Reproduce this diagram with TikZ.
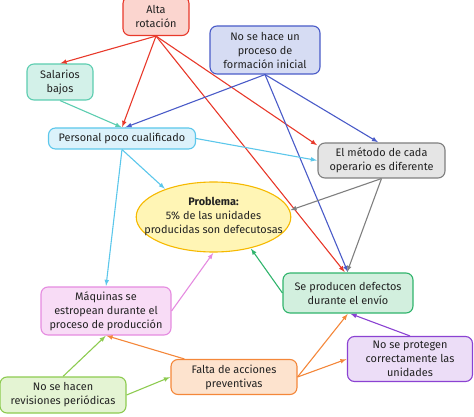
\documentclass[tikz,border=0pt]{standalone}
\usepackage{fontspec}
\setmainfont{Fira Sans}
\usepackage{tikz}
\usetikzlibrary{arrows,shapes,positioning}

\definecolor{rojo}{HTML}{E8392B}
\definecolor{rojoF}{HTML}{FBD5CF}
\definecolor{azul}{HTML}{4A5BC8}
\definecolor{azulF}{HTML}{D6DCF3}
\definecolor{turq}{HTML}{5CCDB0}
\definecolor{turqF}{HTML}{D3F1E9}
\definecolor{cian}{HTML}{5CC7EB}
\definecolor{cianF}{HTML}{DCF2FB}
\definecolor{gris}{HTML}{7F7F7F}
\definecolor{grisF}{HTML}{E5E5E5}
\definecolor{amar}{HTML}{F6B900}
\definecolor{amarF}{HTML}{FFF5B5}
\definecolor{verde}{HTML}{30B46C}
\definecolor{verdeF}{HTML}{D2EFDE}
\definecolor{rosa}{HTML}{E58BE0}
\definecolor{rosaF}{HTML}{F8DCF6}
\definecolor{lila}{HTML}{8B42D2}
\definecolor{lilaF}{HTML}{ECDDF7}
\definecolor{naranja}{HTML}{F4873A}
\definecolor{naranjaF}{HTML}{FDE3CE}
\definecolor{lima}{HTML}{8DCB50}
\definecolor{limaF}{HTML}{E4F4D3}
\definecolor{texto}{HTML}{222222}

\begin{document}
\begin{tikzpicture}
        [
            x=1pt, y=-1pt,
            causa/.style={rectangle, rounded corners=7pt, draw, line width=1.1pt, align=center, inner sep=1pt, text=texto, font=\fontsize{10.9}{14}\selectfont},
            flecha/.style={->, >=latex, line width=1.1pt, shorten >=0.5pt},
        ]
            \useasboundingbox (0,0) rectangle (474,417);

            \node[causa, draw=rojo, fill=rojoF, minimum width=66pt, minimum height=39pt] (Alta) at (156,16) {Alta\\rotación};
            \node[causa, draw=azul, fill=azulF, minimum width=110pt, minimum height=48pt] (Formacion) at (265,50) {No se hace un\\proceso de\\formación inicial};
            \node[causa, draw=turq, fill=turqF, minimum width=66pt, minimum height=36pt] (Salarios) at (60,82) {Salarios\\bajos};
            \node[causa, draw=cian, fill=cianF, minimum width=147pt, minimum height=21pt] (Personal) at (122,138.5) {Personal poco cualificado};
            \node[causa, draw=gris, fill=grisF, minimum width=127pt, minimum height=35pt] (Metodo) at (381.5,160.5) {El método de cada\\operario es diferente};
            \node[ellipse, draw=amar, fill=amarF, line width=1.1pt, align=center, inner xsep=-14.5pt, inner ysep=0pt, minimum height=70pt, text=texto, font=\fontsize{10.9}{14}\selectfont] (Problema) at (213.5,217) {\textbf{Problema:}\\5\% de las unidades\\producidas son defecutosas};
            \node[causa, draw=verde, fill=verdeF, minimum width=130pt, minimum height=40pt] (Envio) at (348,293) {Se producen defectos\\durante el envío};
            \node[causa, draw=rosa, fill=rosaF, minimum width=130pt, minimum height=48pt] (Maquinas) at (106,311) {Máquinas se\\estropean durante el\\proceso de producción};
            \node[causa, draw=lila, fill=lilaF, minimum width=125pt, minimum height=45pt] (Protegen) at (410,359) {No se protegen\\correctamente las\\unidades};
            \node[causa, draw=naranja, fill=naranjaF, minimum width=126pt, minimum height=35pt] (Falta) at (234,377) {Falta de acciones\\preventivas};
            \node[causa, draw=lima, fill=limaF, minimum width=126pt, minimum height=36pt] (Revisiones) at (63,395) {No se hacen\\revisiones periódicas};

            \draw[flecha, draw=rojo] (Alta.south) -- (Salarios.north);
            \draw[flecha, draw=rojo] (Alta.south) -- (Personal.north);
            \draw[flecha, draw=rojo] (Alta.south) -- ([yshift=-3pt]Metodo.north west);
            \draw[flecha, draw=rojo] (Alta.south) -- ([xshift=-3pt]Envio.north);

            \draw[flecha, draw=azul] (Formacion.south) -- ([xshift=3pt]Personal.north);
            \draw[flecha, draw=azul] (Formacion.south) -- ([xshift=-3pt]Metodo.north);
            \draw[flecha, draw=azul] (Formacion.south) -- (Envio.north);

            \draw[flecha, draw=turq] (Salarios.south) -- (Personal.north);

            \draw[flecha, draw=cian] (Personal.east) -- (Metodo.west);
            \draw[flecha, draw=cian] (Personal.south) -- (Problema.150);
            \draw[flecha, draw=cian] (Personal.south) -- (Maquinas.north);

            \draw[flecha, draw=gris] (Metodo.south) -- (Problema.5);
            \draw[flecha, draw=gris] (Metodo.south) -- ([xshift=-1pt]Envio.north);

            \draw[flecha, draw=verde] (Envio.west) -- (Problema.-40);
            \draw[flecha, draw=rosa] (Maquinas.east) -- (Problema.south);

            \draw[flecha, draw=naranja] (Falta.160) -- (Maquinas.south);
            \draw[flecha, draw=naranja] (Falta.east) -- (Envio.south);
            \draw[flecha, draw=naranja] (Falta.east) -- (Protegen.west);

            \draw[flecha, draw=lila] (Protegen.north) -- ([xshift=2pt]Envio.south);

            \draw[flecha, draw=lima] (Revisiones.north) -- (Maquinas.south);
            \draw[flecha, draw=lima] (Revisiones.east) -- (Falta.west);
        \end{tikzpicture}
\end{document}
